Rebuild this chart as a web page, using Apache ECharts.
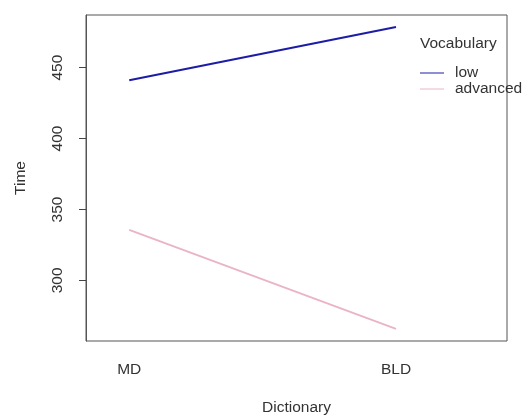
<!DOCTYPE html>
<html><head><meta charset="utf-8">
<script src="https://cdn.jsdelivr.net/npm/echarts@6/dist/echarts.min.js"></script>
<style>html,body{margin:0;padding:0;background:#fff}#c{width:523px;height:416px}</style>
</head><body><div id="c"></div>
<script>
const categories = ['MD', 'BLD'];
const seriesNames = ['low', 'advanced'];
const lowValues = [441.1, 478.6];
const advancedValues = [335.6, 265.8];
const yTicks = [300, 350, 400, 450];
const xPositions = [1, 2];

const font = 'Liberation Sans, Arial, sans-serif';
const fs = 15.5;
const chart = echarts.init(document.getElementById('c'));
const toPairs = vals => vals.map((v, i) => [xPositions[i], v]);
chart.setOption({
  animation: false,
  backgroundColor: '#fff',
  textStyle: { fontFamily: font },
  grid: { left: 86, top: 15, right: 16, bottom: 75, show: true, borderColor: '#555', borderWidth: 1, outerBoundsMode: 'none', containLabel: false },
  title: {
    text: 'Vocabulary', left: 420, top: 36, padding: 0,
    textStyle: { fontSize: fs, fontWeight: 'normal', color: '#333', fontFamily: font }
  },
  legend: {
    orient: 'vertical', left: 420, top: 65, padding: 0, itemGap: 0, itemWidth: 24, itemHeight: 12,
    data: seriesNames.map(n => ({ name: n, icon: 'path://M0,6 L24,6 L24,7 L0,7 Z' })),
    textStyle: { fontSize: fs, color: '#333', lineHeight: 12, padding: [0, 0, 0, 6], fontFamily: font }
  },
  xAxis: {
    type: 'value', min: 0.838, max: 2.416,
    name: 'Dictionary', nameLocation: 'middle', nameGap: 59,
    nameTextStyle: { fontSize: fs, color: '#333' },
    axisLine: { show: false }, axisTick: { show: false }, splitLine: { show: false },
    axisLabel: {
      customValues: xPositions, margin: 21, fontSize: fs, color: '#333',
      formatter: v => categories[xPositions.indexOf(v)] || ''
    }
  },
  yAxis: {
    type: 'value', min: 257.3, max: 487.1,
    name: 'Time', nameLocation: 'middle', nameGap: 57,
    nameTextStyle: { fontSize: fs, color: '#333' },
    axisLine: { show: true, lineStyle: { color: '#555' } },
    axisTick: { show: true, customValues: yTicks, length: 7, lineStyle: { color: '#444' } },
    splitLine: { show: false },
    axisLabel: { customValues: yTicks, rotate: 90, margin: 20, fontSize: fs, color: '#333' }
  },
  series: [
    { name: seriesNames[0], type: 'line', data: toPairs(lowValues), symbol: 'none',
      lineStyle: { color: '#1c1ca6', width: 2 }, itemStyle: { color: '#1c1ca6' } },
    { name: seriesNames[1], type: 'line', data: toPairs(advancedValues), symbol: 'none',
      lineStyle: { color: '#eab4c4', width: 1.8 }, itemStyle: { color: '#eab4c4' } }
  ]
});
</script></body></html>
